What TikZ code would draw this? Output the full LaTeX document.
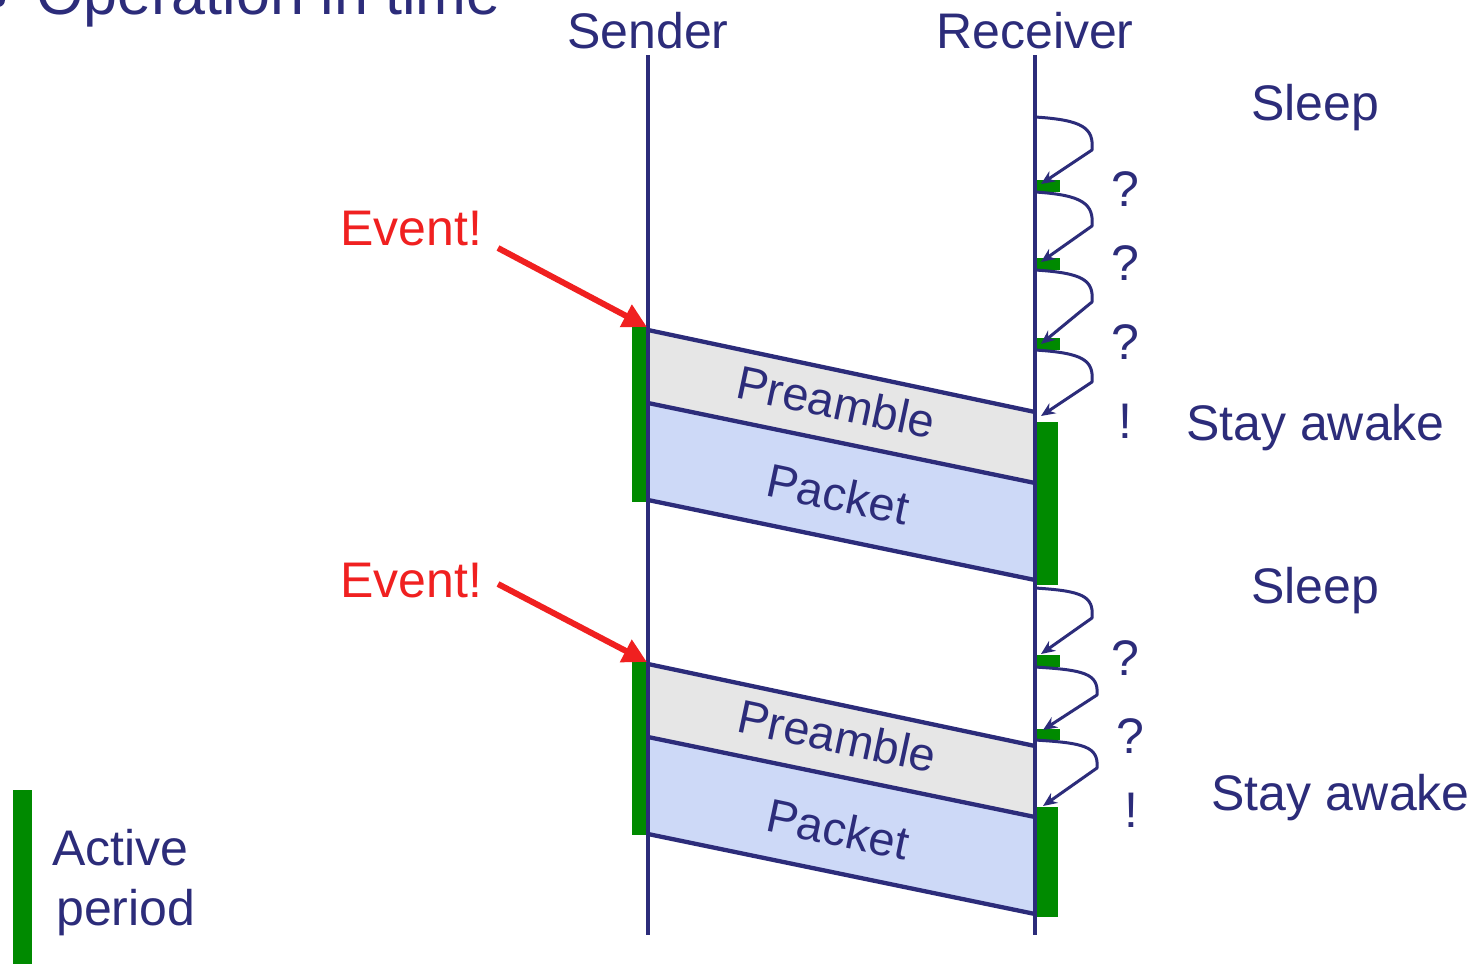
\documentclass[tikz,border=0pt]{standalone}
\usepackage{fontspec}
\setmainfont{Liberation Sans}
\usetikzlibrary{arrows.meta}

\definecolor{navy}{RGB}{44,44,122}
\definecolor{eventred}{RGB}{240,32,32}
\definecolor{activegreen}{RGB}{0,138,0}
\definecolor{preamblefill}{RGB}{230,230,230}
\definecolor{packetfill}{RGB}{205,217,247}

\begin{document}
\begin{tikzpicture}[x=1pt,y=-1pt,
  lbl/.style={text=navy, inner sep=0pt, font=\fontsize{50pt}{60pt}\selectfont},
  evlbl/.style={text=eventred, inner sep=0pt, font=\fontsize{50pt}{60pt}\selectfont},
  framelbl/.style={text=navy, inner sep=0pt, rotate=-12, font=\fontsize{47pt}{56pt}\selectfont},
  lifeline/.style={draw=navy, line width=3.2pt},
  frameedge/.style={draw=navy, line width=4.3pt},
  eventarrow/.style={draw=eventred, line width=6pt, -{Triangle[length=24pt,width=24pt]}},
  wakeloop/.style={draw=navy, line width=3pt, line join=round, -{Stealth[length=14pt,width=12pt]}}
]
\clip (0,0) rectangle (1481,964);
\fill[white] (0,0) rectangle (1481,964);

% heading, cut at the top edge
\fill[navy] (-2,0) circle (7);
\node[lbl, anchor=base west, font=\fontsize{61pt}{70pt}\selectfont] (title) at (36,14) {Operation in time};

% lifeline heads
\node[lbl, anchor=base] (snd) at (648,48) {Sender};
\node[lbl, anchor=base] (rcv) at (1035,48) {Receiver};
\coordinate (sndtop) at (648,55);
\coordinate (sndbot) at (648,935);
\coordinate (rcvtop) at (1035,55);
\coordinate (rcvbot) at (1035,935);

% frame corners (preamble on top, packet below)
\foreach \k/\d in {1/0, 2/334} {
  \coordinate (pa\k) at (648,330+\d);
  \coordinate (pb\k) at (1035,412+\d);
  \coordinate (pc\k) at (1035,483+\d);
  \coordinate (pd\k) at (648,403+\d);
  \coordinate (pe\k) at (1035,580+\d);
  \coordinate (pf\k) at (648,500+\d);
  \fill[preamblefill] (pa\k) -- (pb\k) -- (pc\k) -- (pd\k) -- cycle;
  \fill[packetfill] (pd\k) -- (pc\k) -- (pe\k) -- (pf\k) -- cycle;
  \draw[frameedge] (pa\k) -- (pb\k);
  \draw[frameedge] (pd\k) -- (pc\k);
  \draw[frameedge] (pf\k) -- (pe\k);
}
\node[framelbl] (pre1) at (836,402) {Preamble};
\node[framelbl] (pkt1) at (838,494) {Packet};
\node[framelbl] (pre2) at (837,736) {Preamble};
\node[framelbl] (pkt2) at (838,829) {Packet};

% active periods of the sender
\fill[activegreen] (632,327) rectangle (647,502);
\fill[activegreen] (632,662) rectangle (647,835);

% active periods of the receiver: short polls and full wake-ups
\fill[activegreen] (1036,180) rectangle (1060,192);
\fill[activegreen] (1036,258) rectangle (1060,270);
\fill[activegreen] (1036,338) rectangle (1060,350);
\fill[activegreen] (1036,422) rectangle (1058,585);
\fill[activegreen] (1036,655) rectangle (1060,667);
\fill[activegreen] (1036,729) rectangle (1060,740);
\fill[activegreen] (1036,807) rectangle (1058,917);

% lifelines
\draw[lifeline] (snd.south |- sndtop) -- (sndbot);
\draw[lifeline] (rcv.south |- rcvtop) -- (rcvbot);

% sleep cycles of the receiver
\foreach \n/\s/\py/\px/\t/\tx in {
    1/117/150/1092/184/1041,
    2/192/226/1092/262/1041,
    3/270/302/1092/344/1041,
    4/350/382/1092/416/1041,
    5/588/618/1092/654/1041,
    6/667/695/1097/730/1043,
    7/740/768/1097/806/1043} {
  \coordinate (ls\n) at (1035,\s);
  \coordinate (lp\n) at (\px,\py);
  \coordinate (lt\n) at (\tx,\t);
  \draw[wakeloop] (ls\n) .. controls ++(48,3) and ++(2,-22) .. (lp\n) -- (lt\n);
}

% poll outcomes
\node[lbl, anchor=base] (q1) at (1125,206) {?};
\node[lbl, anchor=base] (q2) at (1125,280) {?};
\node[lbl, anchor=base] (q3) at (1125,359) {?};
\node[lbl, anchor=base] (x1) at (1125,438) {!};
\node[lbl, anchor=base] (q4) at (1125,675) {?};
\node[lbl, anchor=base] (q5) at (1130,753) {?};
\node[lbl, anchor=base] (x2) at (1131,827) {!};

% receiver states
\node[lbl, anchor=base west] (sleep1) at (1251,120) {Sleep};
\node[lbl, anchor=base west] (awake1) at (1186,440) {Stay awake};
\node[lbl, anchor=base west] (sleep2) at (1251,603) {Sleep};
\node[lbl, anchor=base west] (awake2) at (1211,810) {Stay awake};

% events at the sender
\node[evlbl, anchor=base west] (ev1) at (340,245) {Event!};
\node[evlbl, anchor=base west] (ev2) at (340,597) {Event!};
\coordinate (ev1s) at (498,248);
\coordinate (ev1t) at (647,327);
\coordinate (ev2s) at (498,584);
\coordinate (ev2t) at (647,662);
\draw[eventarrow] (ev1s) -- (ev1t);
\draw[eventarrow] (ev2s) -- (ev2t);

% legend
\fill[activegreen] (13,790) rectangle (32,970);
\node[lbl, anchor=base west] (act) at (52,865) {Active};
\node[lbl, anchor=base west] (per) at (56,925) {period};
\end{tikzpicture}
\end{document}
